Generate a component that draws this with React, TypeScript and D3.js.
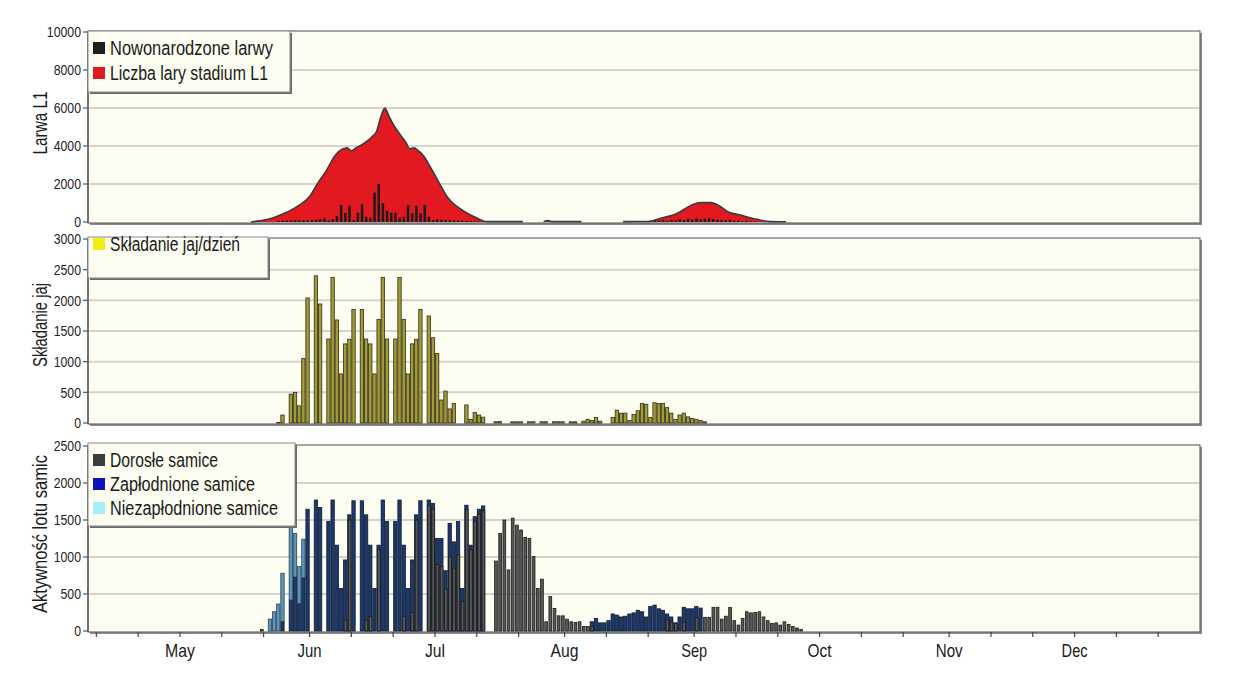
import React from 'react';
import * as d3 from 'd3';

// ---------- DATA ----------
const domainStart = '2010-04-09';
const domainEnd = '2010-12-31';
const monthLabels = ['May', 'Jun', 'Jul', 'Aug', 'Sep', 'Oct', 'Nov', 'Dec'];
const monthStarts = ['2010-05-01', '2010-06-01', '2010-07-01', '2010-08-01', '2010-09-01', '2010-10-01', '2010-11-01', '2010-12-01'];

// Larwa L1 (area) - null = break in the line
const l1Dates = ['2010-05-18', '2010-05-20', '2010-05-23', '2010-05-25', '2010-05-29', '2010-06-01', '2010-06-03', '2010-06-05', '2010-06-07', '2010-06-08', '2010-06-10', '2010-06-11', '2010-06-12', '2010-06-15', '2010-06-16', '2010-06-17', '2010-06-18', '2010-06-19', '2010-06-20', '2010-06-21', '2010-06-22', '2010-06-24', '2010-06-25', '2010-06-26', '2010-06-27', '2010-06-28', '2010-06-30', '2010-07-02', '2010-07-04', '2010-07-05', '2010-07-08', '2010-07-11', '2010-07-13', '2010-07-14', '2010-07-22', '2010-07-25', '2010-07-27', '2010-07-28', '2010-07-29', '2010-08-05', '2010-08-10', '2010-08-15', '2010-08-21', '2010-08-24', '2010-08-28', '2010-08-30', '2010-09-01', '2010-09-03', '2010-09-05', '2010-09-07', '2010-09-09', '2010-09-12', '2010-09-16', '2010-09-19', '2010-09-23'];
const l1Values: (number | null)[] = [0, 60, 200, 370, 810, 1340, 2060, 2700, 3460, 3720, 3900, 3750, 3880, 4300, 4500, 4750, 5500, 6000, 5560, 5150, 4800, 4200, 3850, 3900, 3750, 3550, 2850, 2060, 1300, 1050, 560, 210, 30, 20, 20, null, 20, 80, 20, 20, null, 20, 30, 200, 460, 725, 950, 1020, 1020, 850, 545, 370, 140, 20, 10];

// Nowonarodzone larwy (daily bars)
const larvaeStart = '2010-05-24';
const larvaeValues = [60, 70, 80, 80, 90, 90, 100, 100, 110, 120, 150, 200, 80, 150, 310, 900, 475, 860, 100, 490, 935, 280, 230, 1550, 2010, 990, 600, 490, 490, 230, 280, 900, 460, 860, 460, 900, 280, 100, 140, 120, 110, 100, 90, 80, 70, 60, 50, 40, 30, 20];
const larvae2Start = '2010-08-20';
const larvae2Values = [20, 40, 60, 80, 100, 60, 120, 80, 150, 100, 180, 120, 200, 150, 180, 200, 150, 120, 100, 80, 120, 60, 80, 40, 60, 30, 20];

// Składanie jaj/dzień (daily bars)
const eggsStart = '2010-05-24';
const eggsValues = [10, 130, 0, 470, 500, 280, 1050, 2040, 0, 2400, 1940, 0, 1370, 2375, 1680, 800, 1290, 1365, 1850, 0, 1850, 1370, 1290, 800, 1690, 2375, 1370, 0, 1370, 2375, 1690, 800, 1290, 1365, 1850, 0, 1745, 1390, 1135, 375, 520, 230, 320, 0, 0, 295, 60, 170, 130, 95, 0, 0, 20, 25, 0, 0, 20, 20, 20, 0, 20, 20, 0, 20, 20, 0, 20, 20, 20, 0, 20, 20, 0, 30, 60, 40, 90, 30, 0, 0, 90, 210, 160, 160, 40, 140, 200, 320, 305, 90, 330, 320, 320, 250, 160, 60, 130, 160, 100, 75, 60, 40, 20];

// Aktywność lotu samic (daily bars), start 2010-05-20
const femalesStart = '2010-05-20';
const fertilized = [0, 0, 0, 0, 0, 130, 0, 420, 730, 370, 720, 1645, 0, 1770, 1670, 0, 1480, 1770, 1160, 575, 960, 1570, 1760, 0, 1760, 1570, 1160, 575, 1160, 1770, 1480, 0, 1480, 1770, 1160, 575, 960, 1570, 1760, 0, 1770, 1725, 1250, 1250, 815, 1455, 1205, 1480, 575, 1700, 1160, 1545, 1645, 1690, 0, 0, 0, 0, 0, 0, 0, 0, 0, 0, 0, 0, 0, 0, 0, 0, 0, 0, 0, 0, 0, 0, 0, 0, 0, 125, 170, 110, 110, 140, 230, 215, 190, 200, 230, 245, 280, 260, 190, 330, 350, 300, 280, 230, 190, 110, 190, 320, 300, 300, 330, 310, 0, 0, 0, 0, 0, 0, 0, 0, 0, 0, 0, 0, 0, 0, 0, 0, 0, 0, 0, 0, 0, 0, 0, 0];
const unfertilized = [0, 0, 160, 260, 365, 650, 0, 990, 590, 500, 520, 0, 0, 0, 0, 0, 0, 0, 0, 0, 0, 0, 0, 0, 0, 0, 0, 0, 0, 0, 0, 0, 0, 0, 0, 0, 0, 0, 0, 0, 0, 0, 0, 0, 0, 0, 0, 0, 0, 0, 0, 0, 0, 0, 0, 0, 0, 0, 0, 0, 0, 0, 0, 0, 0, 0, 0, 0, 0, 0, 0, 0, 0, 0, 0, 0, 0, 0, 0, 0, 0, 0, 0, 0, 0, 0, 0, 0, 0, 0, 0, 0, 0, 0, 0, 0, 0, 0, 0, 0, 0, 0, 0, 0, 0, 0, 0, 0, 0, 0, 0, 0, 0, 0, 0, 0, 0, 0, 0, 0, 0, 0, 0, 0, 0, 0, 0, 0, 0, 0, 0, 0, 0];
const adults = [20, 0, 0, 0, 0, 0, 0, 0, 0, 0, 0, 0, 0, 0, 0, 0, 0, 0, 0, 0, 150, 1500, 0, 0, 0, 150, 200, 0, 1100, 0, 0, 0, 0, 0, 200, 0, 250, 1500, 0, 0, 1690, 1650, 900, 870, 570, 1000, 850, 1030, 400, 1640, 1100, 1480, 1580, 1630, 0, 0, 945, 1320, 1500, 825, 1525, 1430, 1365, 1265, 1250, 1005, 575, 700, 125, 465, 305, 205, 205, 160, 125, 115, 125, 60, 60, 60, 0, 0, 0, 0, 0, 0, 0, 0, 0, 0, 0, 0, 0, 0, 0, 0, 0, 150, 120, 100, 0, 120, 0, 0, 180, 0, 185, 185, 320, 320, 160, 200, 320, 140, 80, 170, 260, 245, 250, 260, 190, 140, 100, 110, 80, 125, 90, 60, 40, 20, 10, 10];

// axis ticks
const yTicks1 = [0, 2000, 4000, 6000, 8000, 10000];
const yTicks2 = [0, 500, 1000, 1500, 2000, 2500, 3000];
const yTicks3 = [0, 500, 1000, 1500, 2000, 2500];

// ---------- HELPERS ----------
const parse = d3.timeParse('%Y-%m-%d');
const daily = (start: string, values: number[]) => {
  const s = parse(start) as Date;
  return values.map((v, i) => ({ date: d3.timeDay.offset(s, i), value: v }));
};

const FONT = "'Liberation Sans Narrow', 'Liberation Sans', 'DejaVu Sans Condensed', sans-serif";
const X0 = 88;
const X1 = 1200;
const BG = '#fdfdf1';
const NARROW = 0.82 * 0.556;
const monthWidths = [30, 24, 20, 28, 26, 24, 27, 26];

export default function App() {
  const x = d3.scaleTime().domain([parse(domainStart) as Date, parse(domainEnd) as Date]).range([X0, X1]);
  const dayW = x(parse('2010-06-02') as Date) - x(parse('2010-06-01') as Date);

  const y1 = d3.scaleLinear().domain([0, 10000]).range([222, 32]);
  const y2 = d3.scaleLinear().domain([0, 3000]).range([423, 239]);
  const y3 = d3.scaleLinear().domain([0, 2500]).range([631, 446]);

  const l1 = l1Dates.map((d, i) => ({ date: parse(d) as Date, value: l1Values[i] }));
  const area = d3.area<{ date: Date; value: number | null }>()
    .defined(d => d.value !== null)
    .x(d => x(d.date))
    .y0(y1(0))
    .y1(d => y1(d.value as number))
    .curve(d3.curveMonotoneX);
  const line = d3.line<{ date: Date; value: number | null }>()
    .defined(d => d.value !== null)
    .x(d => x(d.date))
    .y(d => y1(d.value as number))
    .curve(d3.curveMonotoneX);

  const larvae = daily(larvaeStart, larvaeValues).concat(daily(larvae2Start, larvae2Values));
  const eggs = daily(eggsStart, eggsValues);
  const fert = daily(femalesStart, fertilized);
  const unfert = daily(femalesStart, unfertilized);
  const adult = daily(femalesStart, adults);

  const frame = (yScale: d3.ScaleLinear<number, number>, ticks: number[], key: string) => {
    const top = yScale(ticks[ticks.length - 1]) - 1;
    const bottom = yScale(0) + 1;
    return (
      <g key={key}>
        <rect x={X0 + 2} y={top + 2} width={X1 - X0} height={bottom - top} fill="#8a8a8a" />
        <rect x={X0} y={top} width={X1 - X0} height={bottom - top} fill={BG} stroke="#6a6a6a" strokeWidth={1.2} />
        {ticks.slice(1, -1).map(t => (
          <line key={t} x1={X0 + 1} x2={X1 - 1} y1={yScale(t)} y2={yScale(t)} stroke="#d3d3cc" strokeWidth={2} />
        ))}
        <line x1={X0} x2={X0} y1={top} y2={bottom} stroke="#555" strokeWidth={1.3} />
        {ticks.map(t => (
          <g key={'t' + t}>
            <line x1={X0 - 5} x2={X0} y1={yScale(t)} y2={yScale(t)} stroke="#555" strokeWidth={1.2} />
            <text x={X0 - 7} y={yScale(t)} dy="0.35em" textAnchor="end" fontSize={15} fill="#222" fontFamily={FONT}
              textLength={String(t).length * 15 * NARROW} lengthAdjust="spacingAndGlyphs">{t}</text>
          </g>
        ))}
      </g>
    );
  };

  const legend = (x0: number, y0: number, w: number, h: number, items: { color: string; label: string; y: number; w: number }[], key: string) => (
    <g key={key}>
      <rect x={x0 + 2} y={y0 + 2} width={w} height={h} fill="#6a6a6a" />
      <rect x={x0} y={y0} width={w} height={h} fill={BG} stroke="#8a8a8a" strokeWidth={1} />
      {items.map(it => (
        <g key={it.label}>
          <rect x={x0 + 5} y={it.y - 13} width={12} height={12} fill={it.color} />
          <text x={x0 + 22} y={it.y} fontSize={20} fill="#1a1a1a" fontFamily={FONT} textLength={it.w} lengthAdjust="spacingAndGlyphs">{it.label}</text>
        </g>
      ))}
    </g>
  );

  const xTicks = d3.timeDay.range(parse(domainStart) as Date, parse(domainEnd) as Date).filter(d => [1, 11, 21].includes(d.getDate()));

  const bw = dayW * 0.8;

  const yTitle = (label: string, cy: number, len: number) => (
    <text transform={`translate(47,${cy}) rotate(-90)`} textAnchor="middle" fontSize={21} fill="#1a1a1a" fontFamily={FONT}
      textLength={len} lengthAdjust="spacingAndGlyphs">{label}</text>
  );

  return (
    <svg width={1240} height={677} style={{ position: 'absolute', left: 0, top: 0, background: '#fff' }}>
      {/* ---------- Panel 1 ---------- */}
      {frame(y1, yTicks1, 'f1')}
      <path d={area(l1) || ''} fill="#e31922" />
      <path d={line(l1) || ''} fill="none" stroke="#3a3a3a" strokeWidth={1.6} />
      {larvae.filter(d => d.value > 0).map((d, i) => (
        <rect key={'l' + i} x={x(d.date) + dayW * 0.25} y={y1(d.value)} width={dayW * 0.6} height={y1(0) - y1(d.value)} fill="#1c1c1c" />
      ))}
      {legend(X0, 31, 202, 61, [
        { color: '#1e1e1e', label: 'Nowonarodzone larwy', y: 55, w: 163 },
        { color: '#e31922', label: 'Liczba lary stadium L1', y: 80, w: 158 },
      ], 'lg1')}

      {/* ---------- Panel 2 ---------- */}
      {frame(y2, yTicks2, 'f2')}
      {eggs.filter(d => d.value > 0).map((d, i) => (
        <rect key={'e' + i} x={x(d.date) + 0.5} y={y2(d.value)} width={bw} height={y2(0) - y2(d.value)} fill="#a39c36" stroke="#2e2d18" strokeWidth={0.8} />
      ))}
      {legend(X0, 237, 180, 41, [
        { color: '#f2ee12', label: 'Składanie jaj/dzień', y: 251, w: 130 },
      ], 'lg2')}

      {/* ---------- Panel 3 ---------- */}
      {frame(y3, yTicks3, 'f3')}
      {fert.map((d, i) => {
        const u = unfert[i].value;
        const a = adult[i].value;
        const bx = x(d.date) + 0.5;
        return (
          <g key={'b' + i}>
            {d.value > 0 && <rect x={bx} y={y3(d.value)} width={bw} height={y3(0) - y3(d.value)} fill="#1d3a6c" stroke="#0c1833" strokeWidth={0.8} />}
            {u > 0 && <rect x={bx} y={y3(d.value + u)} width={bw} height={y3(d.value) - y3(d.value + u)} fill="#5f95b8" stroke="#24455c" strokeWidth={0.8} />}
            {a > 0 && <rect x={bx + 0.6} y={y3(a)} width={bw - 0.6} height={y3(0) - y3(a)} fill="#585858" stroke="#1a1a1a" strokeWidth={0.8} />}
          </g>
        );
      })}
      {legend(X0, 443, 207, 83, [
        { color: '#3c3c3c', label: 'Dorosłe samice', y: 467, w: 108 },
        { color: '#0a14b8', label: 'Zapłodnione samice', y: 491, w: 145 },
        { color: '#a6eef6', label: 'Niezapłodnione samice', y: 515, w: 168 },
      ], 'lg3')}

      {/* x axis */}
      {xTicks.map((d, i) => (
        <line key={'xt' + i} x1={x(d)} x2={x(d)} y1={632} y2={637} stroke="#444" strokeWidth={1.2} />
      ))}
      {monthStarts.map((m, i) => (
        <text key={m} x={x(parse(m) as Date)} y={657} textAnchor="middle" fontSize={19} fill="#1a1a1a" fontFamily={FONT}
          textLength={monthWidths[i]} lengthAdjust="spacingAndGlyphs">{monthLabels[i]}</text>
      ))}

      {/* y titles */}
      {yTitle('Larwa L1', 123, 63)}
      {yTitle('Składanie jaj', 325, 84)}
      {yTitle('Aktywność lotu samic', 534, 158)}
    </svg>
  );
}
